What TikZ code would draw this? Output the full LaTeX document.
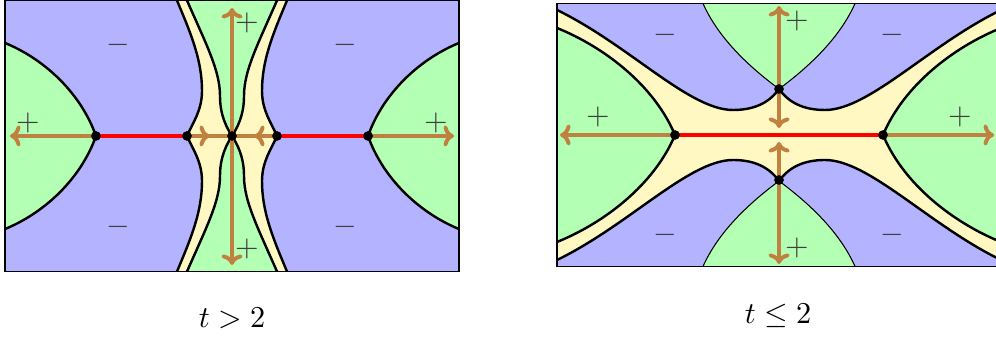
\documentclass[tikz,border=0pt]{standalone}
\usepackage{amsmath}
\usepackage{amssymb}
\usepackage{xcolor}
\usetikzlibrary{arrows.meta, calc}
\definecolor{RegionBlue}{HTML}{B3B3FF}
\definecolor{RegionGreen}{HTML}{B3FFB3}
\definecolor{RegionYellow}{HTML}{FFF8C2}
\definecolor{FlowBrown}{HTML}{C08040}

\begin{document}
\begin{tikzpicture}[x=0.33pt, y=-0.33pt,
    wall/.style={black, line width=0.8pt},
    hairwall/.style={black, line width=0.35pt},
    frame/.style={black, line width=0.65pt},
    flow/.style={FlowBrown, line width=1.3pt},
    flowarrow/.style={flow, -{Computer Modern Rightarrow[length=3.5pt, width=7pt]}},
    cut/.style={red, line width=1.3pt},
    dot/.style={fill=black},
    sign/.style={text=black!75}]

    \useasboundingbox (0,0) rectangle (996,338);

    % === Left figure: t > 2 ===
    \begin{scope}[shift={(232,136)}]
        % Background
        \fill[RegionBlue] (-227,-135.5) rectangle (227,135.5);

        % Regions, one quarter at a time
        \foreach \sx in {1,-1} {
            \foreach \sy in {1,-1} {
                \begin{scope}[xscale=\sx, yscale=\sy]
                    \fill[RegionYellow] (-55,-135.5) .. controls (-40,-100) and (-30,-75) .. (-30,-45)
                        .. controls (-30,-25) and (-40,-12) .. (-45,0) -- (0,0) -- (0,-135.5) -- cycle;
                    \fill[RegionGreen] (-45,-135.5) .. controls (-25,-90) and (-12,-65) .. (-12,-40)
                        .. controls (-12,-20) and (-5,-8) .. (0,0) -- (0,-135.5) -- cycle;
                    \fill[RegionGreen] (-227,-93) .. controls (-190,-78) and (-152,-45) .. (-136,0)
                        -- (-227,0) -- cycle;
                \end{scope}
            }
        }

        % Boundaries
        \foreach \sx in {1,-1} {
            \foreach \sy in {1,-1} {
                \begin{scope}[xscale=\sx, yscale=\sy]
                    \draw[wall] (-55,-135.5) .. controls (-40,-100) and (-30,-75) .. (-30,-45)
                        .. controls (-30,-25) and (-40,-12) .. (-45,0);
                    \draw[wall] (-45,-135.5) .. controls (-25,-90) and (-12,-65) .. (-12,-40)
                        .. controls (-12,-20) and (-5,-8) .. (0,0);
                    \draw[wall] (-227,-93) .. controls (-190,-78) and (-152,-45) .. (-136,0);
                \end{scope}
            }
        }
        \draw[frame] (-227,-135.5) rectangle (227,135.5);

        % Points on the axis
        \coordinate (lA) at (-136,0);
        \coordinate (lB) at (-45,0);
        \coordinate (lC) at (0,0);
        \coordinate (lD) at (45,0);
        \coordinate (lE) at (136,0);
        \coordinate (lWest) at (-222,0);
        \coordinate (lEast) at (222,0);
        \coordinate (lNorth) at (0,-128);
        \coordinate (lSouth) at (0,129);
        \coordinate (lBin) at (-22,0);
        \coordinate (lDin) at (22,0);

        % Flow arrows
        \draw[flowarrow] (lA) -- (lWest);
        \draw[flowarrow] (lE) -- (lEast);
        \draw[flowarrow] (lC) -- (lNorth);
        \draw[flowarrow] (lC) -- (lSouth);
        \draw[flow] (lB) -- (lD);
        \draw[flowarrow] (lB) -- (lBin);
        \draw[flowarrow] (lD) -- (lDin);

        % Cuts
        \draw[cut] (lA) -- (lB);
        \draw[cut] (lD) -- (lE);

        % Dots
        \foreach \p in {lA, lB, lC, lD, lE}
            \fill[dot] (\p) circle[radius=1.6pt];

        % Signs
        \node[sign] (lmNW) at (-114,-91) {$-$};
        \node[sign] (lmNE) at (113,-91) {$-$};
        \node[sign] (lmSW) at (-114,91) {$-$};
        \node[sign] (lmSE) at (113,91) {$-$};
        \node[sign] (lpW) at (-204,-13) {$+$};
        \node[sign] (lpE) at (204,-13) {$+$};
        \node[sign] (lpN) at (15,-113) {$+$};
        \node[sign] (lpS) at (15,113) {$+$};

        % Label
        \node (capL) at (0,182) {$t > 2$};
    \end{scope}

    % === Right figure: t <= 2 ===
    \begin{scope}[shift={(779,135)}]
        % Background
        \fill[RegionBlue] (-222,-131.5) rectangle (222,131.5);

        % Regions, one quarter at a time
        \foreach \sx in {1,-1} {
            \foreach \sy in {1,-1} {
                \begin{scope}[xscale=\sx, yscale=\sy]
                    \fill[RegionYellow] (-222,-125) .. controls (-150,-90) and (-90,-25) .. (-46,-25)
                        .. controls (-25,-25) and (-10,-32) .. (0,-46) -- (0,0) -- (-222,0) -- cycle;
                    \fill[RegionGreen] (-222,-107) .. controls (-175,-88) and (-125,-50) .. (-104,0)
                        -- (-222,0) -- cycle;
                    \fill[RegionGreen] (-76,-131.5) .. controls (-62,-100) and (-35,-72) .. (0,-46)
                        -- (0,-131.5) -- cycle;
                \end{scope}
            }
        }

        % Boundaries
        \foreach \sx in {1,-1} {
            \foreach \sy in {1,-1} {
                \begin{scope}[xscale=\sx, yscale=\sy]
                    \draw[wall] (-222,-125) .. controls (-150,-90) and (-90,-25) .. (-46,-25)
                        .. controls (-25,-25) and (-10,-32) .. (0,-46);
                    \draw[wall] (-222,-107) .. controls (-175,-88) and (-125,-50) .. (-104,0);
                    \draw[hairwall] (-76,-131.5) .. controls (-62,-100) and (-35,-72) .. (0,-46);
                \end{scope}
            }
        }
        \draw[frame] (-222,-131.5) rectangle (222,131.5);

        % Points
        \coordinate (rA) at (-104,0);
        \coordinate (rB) at (104,0);
        \coordinate (rN) at (0,-46);
        \coordinate (rS) at (0,45);
        \coordinate (rWest) at (-219,0);
        \coordinate (rEast) at (215,0);
        \coordinate (rNtop) at (0,-129);
        \coordinate (rNin) at (0,-7);
        \coordinate (rSin) at (0,7);
        \coordinate (rSbot) at (0,129);

        % Flow arrows
        \draw[flowarrow] (rA) -- (rWest);
        \draw[flowarrow] (rB) -- (rEast);
        \draw[flowarrow] (rN) -- (rNtop);
        \draw[flowarrow] (rN) -- (rNin);
        \draw[flowarrow] (rS) -- (rSin);
        \draw[flowarrow] (rS) -- (rSbot);

        % Cut
        \draw[cut] (rA) -- (rB);

        % Dots
        \foreach \p in {rA, rB, rN, rS}
            \fill[dot] (\p) circle[radius=1.6pt];

        % Signs
        \node[sign] (rmNW) at (-114,-100) {$-$};
        \node[sign] (rmNE) at (113,-100) {$-$};
        \node[sign] (rmSW) at (-114,100) {$-$};
        \node[sign] (rmSE) at (113,100) {$-$};
        \node[sign] (rpW) at (-181,-18) {$+$};
        \node[sign] (rpE) at (181,-18) {$+$};
        \node[sign] (rpN) at (18,-114) {$+$};
        \node[sign] (rpS) at (18,113) {$+$};

        % Label
        \node (capR) at (-1,181) {$t \le 2$};
    \end{scope}

\end{tikzpicture}
\end{document}
